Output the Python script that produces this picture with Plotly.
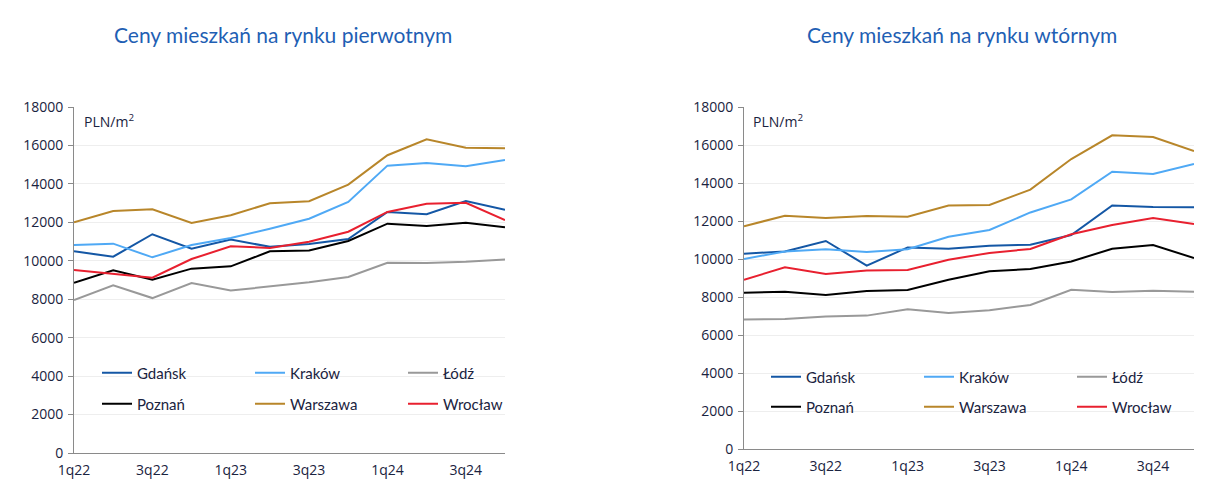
import plotly.graph_objects as go

quarters = ["1q22", "2q22", "3q22", "4q22", "1q23", "2q23", "3q23", "4q23", "1q24", "2q24", "3q24", "4q24"]
labeled_quarters = ["1q22", "3q22", "1q23", "3q23", "1q24", "3q24"]
y_ticks = [0, 2000, 4000, 6000, 8000, 10000, 12000, 14000, 16000, 18000]

cities = ["Gdańsk", "Kraków", "Łódź", "Poznań", "Warszawa", "Wrocław"]
colors = ["#1457a5", "#4fa9f5", "#999999", "#000000", "#b8862a", "#e8202f"]

# primary market (PLN/m2)
prim_gdansk = [10490, 10210, 11380, 10630, 11100, 10730, 10870, 11130, 12540, 12420, 13110, 12660]
prim_krakow = [10820, 10890, 10180, 10820, 11190, 11670, 12190, 13060, 14950, 15090, 14920, 15240]
prim_lodz = [7960, 8720, 8060, 8840, 8450, 8650, 8880, 9160, 9900, 9890, 9950, 10060]
prim_poznan = [8860, 9500, 9020, 9590, 9710, 10490, 10530, 11030, 11930, 11810, 11980, 11740]
prim_warszawa = [12000, 12590, 12680, 11970, 12370, 12990, 13100, 13960, 15490, 16320, 15880, 15850]
prim_wroclaw = [9520, 9310, 9120, 10090, 10750, 10670, 10990, 11510, 12540, 12970, 13020, 12120]

# secondary market (PLN/m2)
sec_gdansk = [10280, 10400, 10950, 9650, 10610, 10540, 10700, 10750, 11260, 12820, 12740, 12720]
sec_krakow = [10000, 10400, 10510, 10370, 10510, 11170, 11530, 12450, 13140, 14590, 14470, 15000]
sec_lodz = [6820, 6840, 6980, 7020, 7350, 7160, 7300, 7580, 8380, 8260, 8330, 8280]
sec_poznan = [8230, 8280, 8100, 8310, 8370, 8910, 9350, 9470, 9870, 10540, 10740, 10050]
sec_warszawa = [11720, 12280, 12160, 12260, 12230, 12820, 12840, 13650, 15260, 16510, 16420, 15680]
sec_wroclaw = [8910, 9560, 9210, 9400, 9420, 9960, 10320, 10530, 11300, 11790, 12160, 11840]

titles = ["Ceny mieszkań na rynku pierwotnym", "Ceny mieszkań na rynku wtórnym"]
unit_label = "PLN/m<sup>2</sup>"

prim = [prim_gdansk, prim_krakow, prim_lodz, prim_poznan, prim_warszawa, prim_wroclaw]
sec = [sec_gdansk, sec_krakow, sec_lodz, sec_poznan, sec_warszawa, sec_wroclaw]

W, H = 1208, 488
fig = go.Figure()

for i, (name, col) in enumerate(zip(cities, colors)):
    leg_left = "legend" if i < 3 else "legend2"
    leg_right = "legend3" if i < 3 else "legend4"
    fig.add_trace(go.Scatter(x=quarters, y=prim[i], name=name, mode="lines",
                             line=dict(color=col, width=2), xaxis="x", yaxis="y",
                             legend=leg_left))
    fig.add_trace(go.Scatter(x=quarters, y=sec[i], name=name, mode="lines",
                             line=dict(color=col, width=2), xaxis="x2", yaxis="y2",
                             legend=leg_right))

txt = "#1a2340"
axis_col = "#8a8a8a"
tick_font = dict(family="Open Sans, sans-serif", size=14, color=txt)

def xaxis(domain, anchor):
    return dict(domain=domain, anchor=anchor, type="category",
                categoryorder="array", categoryarray=quarters,
                range=[0, 11], tickmode="array", tickvals=labeled_quarters,
                ticktext=labeled_quarters, ticks="", ticklabelstandoff=4,
                showline=True, linecolor=axis_col, linewidth=1,
                showgrid=False, zeroline=False, tickfont=tick_font, fixedrange=True)

def xaxis_marks(overlay, anchor, domain):
    return dict(domain=domain, anchor=anchor, overlaying=overlay, type="category",
                categoryorder="array", categoryarray=quarters,
                range=[0, 11], tickmode="array", tickvals=quarters,
                showticklabels=False, ticks="outside", ticklen=6, tickcolor=axis_col,
                showline=False, showgrid=False, zeroline=False, fixedrange=True, side="bottom")

def yaxis(domain, anchor):
    return dict(domain=domain, anchor=anchor, range=[0, 18000],
                tickmode="array", tickvals=y_ticks, ticktext=[str(v) for v in y_ticks],
                showline=True, linecolor=axis_col, linewidth=1,
                ticks="outside", ticklen=5, tickcolor=axis_col, ticklabelstandoff=2,
                showgrid=True, gridcolor="#eeeeee", gridwidth=1,
                zeroline=False, tickfont=tick_font, fixedrange=True)

def py(pix):
    return (H - pix) / H

def px(pix):
    return pix / W

leg_font = dict(family="Lato, sans-serif", size=15, color=txt)

def legend(x, y):
    return dict(orientation="h", x=px(x), y=py(y), xanchor="left", yanchor="middle",
                entrywidth=108, entrywidthmode="pixels", font=leg_font,
                bgcolor="rgba(0,0,0,0)", borderwidth=0, itemwidth=30,
                traceorder="normal", itemclick=False, itemdoubleclick=False)

fig.update_layout(
    width=W, height=H,
    margin=dict(l=0, r=0, t=0, b=0, autoexpand=False),
    paper_bgcolor="white", plot_bgcolor="white",
    showlegend=True,
    xaxis=xaxis([px(74), px(505)], "y"),
    yaxis=yaxis([py(453), py(107)], "x"),
    xaxis2=xaxis([px(744), px(1194)], "y2"),
    yaxis2=yaxis([py(449), py(107)], "x2"),
    xaxis3=xaxis_marks("x", "y", [px(74), px(505)]),
    xaxis4=xaxis_marks("x2", "y2", [px(744), px(1194)]),
    legend=legend(97, 373),
    legend2=legend(97, 404),
    legend3=legend(766, 377),
    legend4=legend(766, 407),
    annotations=[
        dict(text=titles[0], x=px(283), y=py(34), xref="paper", yref="paper",
             showarrow=False, xanchor="center", yanchor="middle",
             font=dict(family="Lato, sans-serif", size=21, color="#1f5fb4")),
        dict(text=titles[1], x=px(962), y=py(34), xref="paper", yref="paper",
             showarrow=False, xanchor="center", yanchor="middle",
             font=dict(family="Lato, sans-serif", size=21, color="#1f5fb4")),
        dict(text=unit_label, x=px(82), y=py(121), xref="paper", yref="paper",
             showarrow=False, xanchor="left", yanchor="middle",
             font=dict(family="Open Sans, sans-serif", size=14, color=txt)),
        dict(text=unit_label, x=px(751), y=py(121), xref="paper", yref="paper",
             showarrow=False, xanchor="left", yanchor="middle",
             font=dict(family="Open Sans, sans-serif", size=14, color=txt)),
    ],
)

fig.write_html("out.html", config={"displayModeBar": False},
               post_script="document.body.style.margin='0';")
